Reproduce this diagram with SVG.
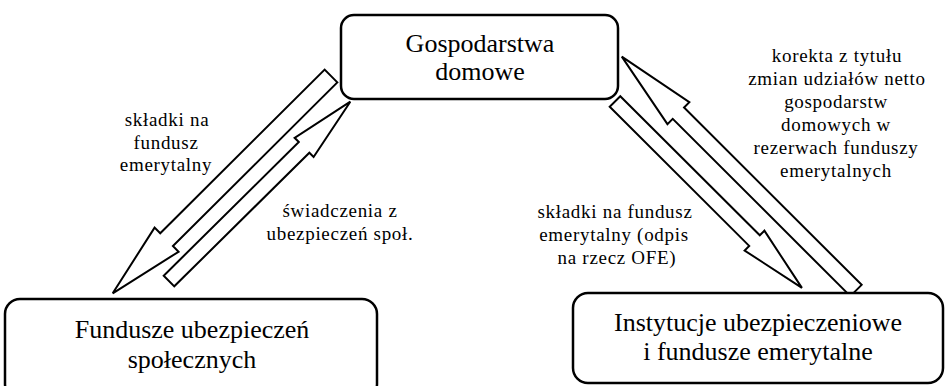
<svg xmlns="http://www.w3.org/2000/svg" width="946" height="386" viewBox="0 0 946 386">
<style>
.box{fill:#fff;stroke:#000;stroke-width:2.5}
.arr{fill:#fff;stroke:#000;stroke-width:2;stroke-linejoin:miter}
.nt{font-family:"Liberation Serif","Times New Roman",serif;font-size:26px;fill:#000;text-anchor:middle}
.lt{font-family:"Liberation Serif","Times New Roman",serif;font-size:19px;letter-spacing:0.7px;fill:#000;text-anchor:middle}
</style>
<rect width="946" height="386" fill="#fff"/>
<g id="connectors">
<polygon class="arr" transform="translate(331,76) rotate(135.13)" points="0,-9 232,-9 232,-17 308,0 232,17 232,9 0,9"/>
<polygon class="arr" transform="translate(169,281) rotate(-44.68)" points="0,-7.5 190,-7.5 190,-13.5 255,0 190,13.5 190,7.5 0,7.5"/>
<polygon class="arr" transform="translate(615,101.5) rotate(44.92)" points="0,-7.5 197,-7.5 197,-14 264,0 197,14 197,7.5 0,7.5"/>
<polygon class="arr" transform="translate(856,290.5) rotate(-135.04)" points="0,-8 251,-8 251,-15.5 331,0 251,15.5 251,8 0,8"/>
<text class="lt"><tspan x="167" y="126">składki na</tspan><tspan x="166" y="149">fundusz</tspan><tspan x="166" y="171">emerytalny</tspan></text>
<text class="lt"><tspan x="340" y="217">świadczenia z</tspan><tspan x="340" y="240">ubezpieczeń społ.</tspan></text>
<text class="lt"><tspan x="615" y="218">składki na fundusz</tspan><tspan x="614" y="241">emerytalny (odpis</tspan><tspan x="617" y="264">na rzecz OFE)</tspan></text>
<text class="lt"><tspan x="837" y="62">korekta z tytułu</tspan><tspan x="837" y="85">zmian udziałów netto</tspan><tspan x="836" y="108">gospodarstw</tspan><tspan x="836" y="131">domowych w</tspan><tspan x="836" y="154">rezerwach funduszy</tspan><tspan x="836" y="177">emerytalnych</tspan></text>
</g>
<g id="gospodarstwa">
<rect class="box" x="341" y="15" width="277" height="84" rx="13"/>
<text class="nt"><tspan x="480" y="52">Gospodarstwa</tspan><tspan x="480" y="80">domowe</tspan></text>
</g>
<g id="fundusze">
<rect class="box" x="5" y="299" width="372" height="100" rx="15"/>
<text class="nt"><tspan x="192" y="338">Fundusze ubezpieczeń</tspan><tspan x="192" y="368">społecznych</tspan></text>
</g>
<g id="instytucje">
<rect class="box" x="573" y="293" width="370" height="90" rx="15"/>
<text class="nt"><tspan x="758" y="331">Instytucje ubezpieczeniowe</tspan><tspan x="758" y="360">i fundusze emerytalne</tspan></text>
</g>
</svg>
